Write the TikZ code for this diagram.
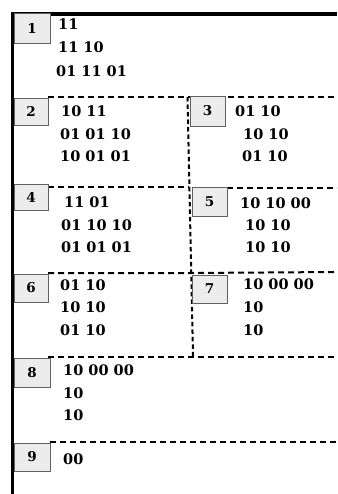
\documentclass[tikz,border=0pt]{standalone}
\usepackage{fontspec}
\setmainfont{DejaVu Serif}
\begin{document}
\begin{tikzpicture}[x=1pt,y=-1pt,
  numbox/.style={draw=gray!75!black, line width=0.8pt, fill=gray!15, inner sep=0pt,
    font=\fontsize{13.5}{13.5}\selectfont\bfseries},
  seq/.style={anchor=base west, inner sep=0pt, font=\fontsize{14.5}{14.5}\selectfont\bfseries},
  sep/.style={line width=2pt, dash pattern=on 6pt off 4pt},
  vsep/.style={line width=2pt, dash pattern=on 4.5pt off 3pt},
  frame/.style={line width=3.5pt}]
\useasboundingbox[fill=white] (0,0) rectangle (337,494);
% frame
\coordinate (tl) at (12.5,14);
\coordinate (tr) at (337,14);
\coordinate (bl) at (12.5,494);
\draw[frame] (tr) -- (tl) -- (bl);
% separators
\coordinate (s1a) at (48,97);   \coordinate (s1b) at (337,97);
\coordinate (s2a) at (48,187);  \coordinate (s2b) at (189,187);
\coordinate (s2c) at (227,188); \coordinate (s2d) at (337,188);
\coordinate (s3a) at (48,273);  \coordinate (s3b) at (192,273);
\coordinate (s3c) at (337,272);
\coordinate (s4a) at (48,357);  \coordinate (s4b) at (337,357);
\coordinate (s5a) at (50,442);  \coordinate (s5b) at (337,442);
\coordinate (v1) at (187.5,97); \coordinate (v2) at (193,356);
\draw[sep] (s1a) -- (s1b);
\draw[sep] (s2a) -- (s2b);
\draw[sep] (s2c) -- (s2d);
\draw[sep] (s3a) -- (s3b) -- (s3c);
\draw[sep] (s4a) -- (s4b);
\draw[sep] (s5a) -- (s5b);
\draw[vsep] (v1) -- (v2);
% number boxes
\node[numbox, minimum width=36pt, minimum height=30pt] (b1) at (32,28) {1};
\node[numbox, minimum width=34pt, minimum height=27pt] (b2) at (31,111.5) {2};
\node[numbox, minimum width=35pt, minimum height=30pt] (b3) at (207.5,111) {3};
\node[numbox, minimum width=34pt, minimum height=26pt] (b4) at (31,197) {4};
\node[numbox, minimum width=35pt, minimum height=29pt] (b5) at (209.5,201.5) {5};
\node[numbox, minimum width=34pt, minimum height=28pt] (b6) at (31,288) {6};
\node[numbox, minimum width=35pt, minimum height=28pt] (b7) at (209.5,289) {7};
\node[numbox, minimum width=36pt, minimum height=29pt] (b8) at (32,372.5) {8};
\node[numbox, minimum width=36pt, minimum height=28pt] (b9) at (32,457) {9};
% sequences
\node[seq] (t1a) at (58,30) {11};
\node[seq] (t1b) at (58,53) {11 10};
\node[seq] (t1c) at (56,77) {01 11 01};
\node[seq] (t2a) at (61,117) {10 11};
\node[seq] (t2b) at (60,140) {01 01 10};
\node[seq] (t2c) at (60,162) {10 01 01};
\node[seq] (t3a) at (235,117) {01 10};
\node[seq] (t3b) at (243,140) {10 10};
\node[seq] (t3c) at (242,162) {01 10};
\node[seq] (t4a) at (64,207) {11 01};
\node[seq] (t4b) at (61,230) {01 10 10};
\node[seq] (t4c) at (61,252) {01 01 01};
\node[seq] (t5a) at (240,208) {10 10 00};
\node[seq] (t5b) at (245,230) {10 10};
\node[seq] (t5c) at (245,252) {10 10};
\node[seq] (t6a) at (60,290) {01 10};
\node[seq] (t6b) at (60,312) {10 10};
\node[seq] (t6c) at (60,335) {01 10};
\node[seq] (t7a) at (243,289) {10 00 00};
\node[seq] (t7b) at (243,312) {10};
\node[seq] (t7c) at (243,335) {10};
\node[seq] (t8a) at (63,375) {10 00 00};
\node[seq] (t8b) at (63,398) {10};
\node[seq] (t8c) at (63,420) {10};
\node[seq] (t9a) at (63,464) {00};
\end{tikzpicture}
\end{document}
